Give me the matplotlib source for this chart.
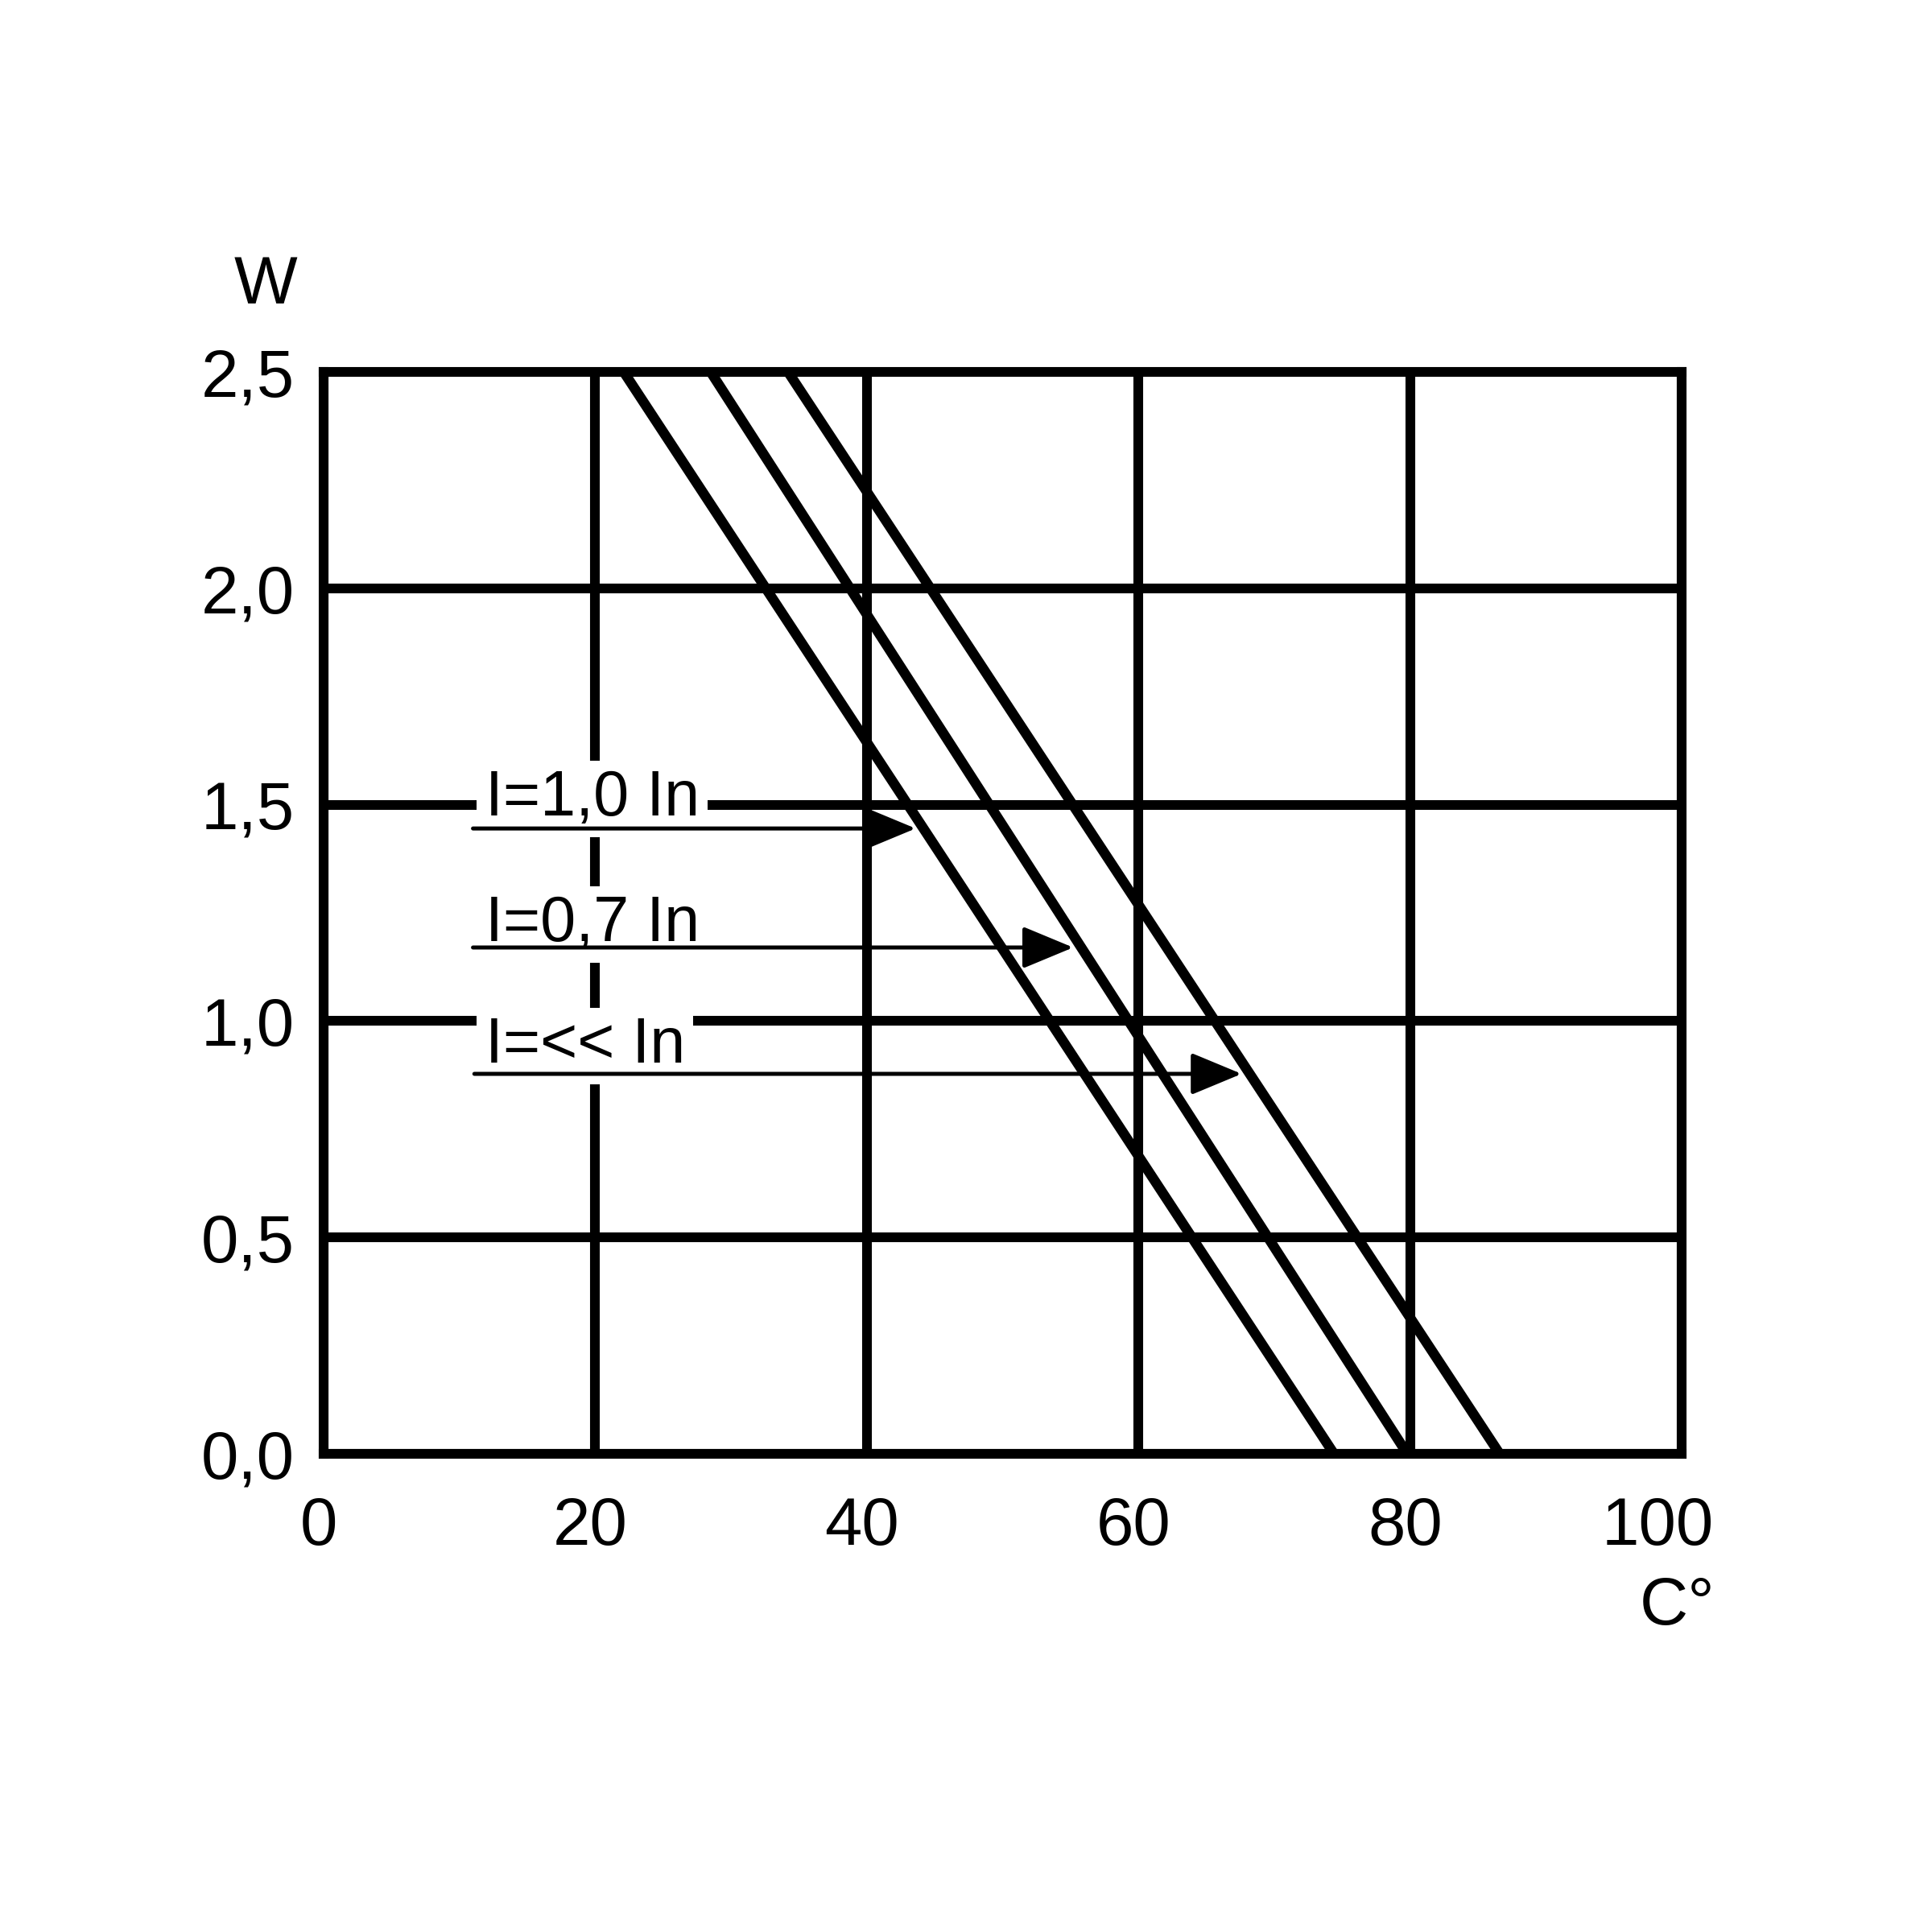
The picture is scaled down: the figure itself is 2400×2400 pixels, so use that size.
import matplotlib
matplotlib.use("Agg")
import matplotlib.pyplot as plt
import matplotlib.transforms as mtransforms
import numpy as np

plt.rcParams['font.family'] = ['Liberation Sans', 'DejaVu Sans']

# ---- data ----
x_ticks = [0, 20, 40, 60, 80, 100]
x_tick_labels = ['0', '20', '40', '60', '80', '100']
y_ticks = [0.0, 0.5, 1.0, 1.5, 2.0, 2.5]
y_tick_labels = ['0,0', '0,5', '1,0', '1,5', '2,0', '2,5']

# derating lines: temperature (°C) at W = 2.5 and W = 0
line_W = [2.5, 0.0]
line_10_T = [22.1, 74.4]     # I=1,0 In
line_07_T = [28.5, 79.8]     # I=0,7 In
line_ll_T = [34.2, 86.6]     # I=<< In

label_texts = ['I=1,0 In', 'I=0,7 In', 'I=<< In']
label_W = [1.475, 1.185, 0.904]
arrow_W = [1.445, 1.170, 0.878]
arrow_start_T = [11.0, 11.0, 11.1]
arrow_tip_T = [43.6, 55.2, 67.6]

# ---- figure ----
fig = plt.figure(figsize=(8, 8), dpi=300)
ax = fig.add_axes([0.1675, 0.2475, 0.7029, 0.56])

ax.set_xlim(0, 100)
ax.set_ylim(0, 2.5)
ax.set_xticks(x_ticks)
ax.set_xticklabels(x_tick_labels)
ax.set_yticks(y_ticks)
ax.set_yticklabels(y_tick_labels)
for lbl in ax.get_yticklabels():
    lbl.set_verticalalignment('center_baseline')

ax.tick_params(axis='both', length=0, labelsize=20, colors='black')
ax.tick_params(axis='x', pad=12.5)
ax.tick_params(axis='y', pad=8.6)

grid_lw = 2.9
ax.set_axisbelow(True)
ax.grid(True, color='black', linewidth=grid_lw)
for sp in ax.spines.values():
    sp.set_linewidth(grid_lw)
    sp.set_color('black')
    sp.set_zorder(2.6)

for T in (line_10_T, line_07_T, line_ll_T):
    ax.plot(T, line_W, color='black', linewidth=3.0, solid_capstyle='butt', zorder=2.5)

for txt, ly in zip(label_texts, label_W):
    ax.text(11.9, ly, txt, fontsize=19, ha='left', va='baseline', zorder=3,
            bbox=dict(boxstyle='square,pad=0.13', facecolor='white', edgecolor='none'))

for y, x0, x1 in zip(arrow_W, arrow_start_T, arrow_tip_T):
    ax.annotate('', xy=(x1, y), xytext=(x0, y), zorder=4,
                arrowprops=dict(arrowstyle='-|>,head_length=0.65,head_width=0.27',
                                mutation_scale=20, lw=1.2, color='black',
                                shrinkA=0, shrinkB=0))

# small horizontal offset of x tick labels as in the reference
labels = ax.get_xticklabels()
for i, lbl in enumerate(labels):
    dx = -30 if i == len(labels) - 1 else -6
    off = mtransforms.ScaledTranslation(dx / 300, 0, fig.dpi_scale_trans)
    lbl.set_transform(lbl.get_transform() + off)

ax.text(-0.0196, 1.0632, 'W', transform=ax.transAxes, fontsize=20,
        ha='right', va='baseline')
ax.text(1.0243, -0.1577, 'C°', transform=ax.transAxes, fontsize=20,
        ha='right', va='baseline')

fig.savefig('out.png', dpi=300, facecolor='white')
